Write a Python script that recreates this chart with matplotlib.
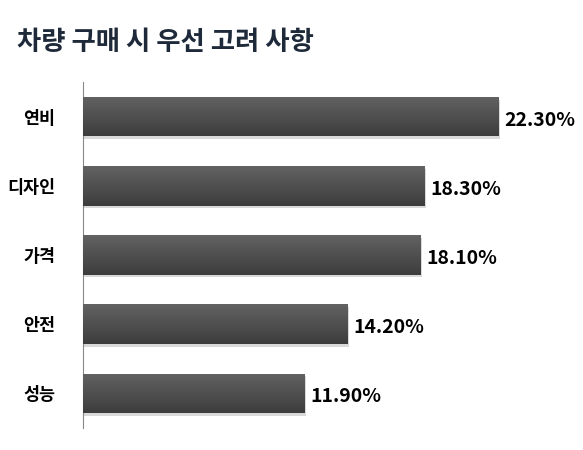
import matplotlib
matplotlib.use('Agg')
import matplotlib.pyplot as plt
import numpy as np

plt.rcParams['font.family'] = ['Noto Sans CJK KR', 'DejaVu Sans']

title = '차량 구매 시 우선 고려 사항'
categories = ['연비', '디자인', '가격', '안전', '성능']
values = [22.3, 18.3, 18.1, 14.2, 11.9]
labels = ['22.30%', '18.30%', '18.10%', '14.20%', '11.90%']

fig = plt.figure(figsize=(5.83, 4.5), dpi=100)
ax = fig.add_axes([83 / 583, 1 - 428 / 450, (560 - 83) / 583, 346 / 450])

y = np.arange(len(categories))
h = 0.57

# shadow under each bar
ax.barh(y + 0.04, values, height=h, left=0.08, color='#000000', alpha=0.15, zorder=1)
bars = ax.barh(y, values, height=h, color='#4c4c4c', zorder=2)

# vertical gradient: lighter on top, darker at bottom
grad = np.linspace(0, 1, 100).reshape(-1, 1)
cmap = matplotlib.colors.LinearSegmentedColormap.from_list('g', ['#636363', '#3c3c3c'])
for b in bars:
    x0, y0 = b.get_x(), b.get_y()
    im = ax.imshow(grad, extent=[x0, x0 + b.get_width(), y0 + b.get_height(), y0],
                   aspect='auto', cmap=cmap, zorder=3)
    im.set_clip_path(b)

for yi, v, lab in zip(y, values, labels):
    ax.text(v + 0.3, yi + 0.05, lab, va='center', ha='left', fontsize=14,
            fontweight='bold', color='#000000')

ax.set_xlim(0, (560 - 83) / 18.65)
ax.set_ylim(4.5, -0.5)
ax.set_yticks(y)
ax.set_yticklabels(categories, fontsize=12.5, fontweight='bold', color='#000000')
ax.tick_params(axis='y', length=0, pad=20)
ax.set_xticks([])
for s in ['top', 'right', 'bottom']:
    ax.spines[s].set_visible(False)
ax.spines['left'].set_color('#888888')
ax.spines['left'].set_linewidth(0.8)

fig.text(17 / 583, 1 - 43 / 450, title, fontsize=19, fontweight='bold',
         color='#1e2a3a', va='center', ha='left')

fig.savefig('out.png', dpi=100)
